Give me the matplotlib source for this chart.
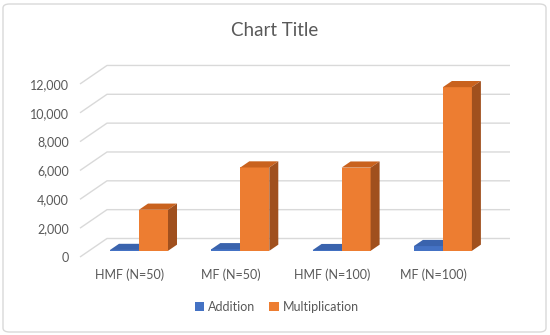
import matplotlib.pyplot as plt
from matplotlib.patches import Polygon, Patch, FancyBboxPatch

plt.rcParams['font.family'] = ['Lato', 'DejaVu Sans']

# data
categories = ['HMF (N=50)', 'MF (N=50)', 'HMF (N=100)', 'MF (N=100)']
addition = [60, 110, 50, 330]
multiplication = [2850, 5780, 5770, 11350]
yticks = [0, 2000, 4000, 6000, 8000, 10000, 12000]

TXT = '#595959'
GRID = '#D9D9D9'
# front / top / side shades for the 3D look
BLUE = ('#4472C4', '#3A63AD', '#2F5597')
ORANGE = ('#ED7D31', '#C9621E', '#A0501E')

W, H = 550, 335
fig = plt.figure(figsize=(W / 100, H / 100), dpi=100)

# axes laid over the front plane of the 3D box (pixels 80..510, 257 -> top 60)
ax = fig.add_axes([80 / W, (H - 257) / H, 430 / W, 197 / H])
px_per_cat = 101.3
px_per_val = 14.42 / 1000
x0 = -50 / px_per_cat           # data x at left edge (pixel 80)
x1 = x0 + 430 / px_per_cat
ax.set_xlim(x0, x1)
ax.set_ylim(0, 197 / px_per_val)

# full depth of the box in data units
DX = 27 / px_per_cat
DY = 18.5 / px_per_val

# walls gridlines: diagonal on left wall, then along back wall
for v in yticks:
    ax.plot([x0, x0 + DX, x1], [v, v + DY, v + DY], color=GRID, lw=1.0,
            zorder=1, clip_on=False, solid_capstyle='butt')

bw = 29 / px_per_cat
d = 1 / 3  # bars sit between 1/3 and 2/3 of the depth


def bar3d(xl, val, cols):
    xr = xl + bw
    yb = DY * d
    yt = yb + val
    ddx, ddy = DX * d, DY * d
    front, top, side = cols
    ax.add_patch(Polygon([(xl, yb), (xr, yb), (xr, yt), (xl, yt)],
                         closed=True, fc=front, ec='none', zorder=3))
    ax.add_patch(Polygon([(xl, yt), (xr, yt), (xr + ddx, yt + ddy), (xl + ddx, yt + ddy)],
                         closed=True, fc=top, ec='none', zorder=3))
    ax.add_patch(Polygon([(xr, yb), (xr + ddx, yb + ddy), (xr + ddx, yt + ddy), (xr, yt)],
                         closed=True, fc=side, ec='none', zorder=3))


for i in range(len(categories)):
    c = i + DX * d
    bar3d(c - bw, addition[i], BLUE)
    bar3d(c, multiplication[i], ORANGE)

for s in ax.spines.values():
    s.set_visible(False)
ax.set_yticks(yticks)
ax.set_yticklabels([f'{v:,}' for v in yticks], fontsize=9, color=TXT)
ax.set_xticks(range(len(categories)))
ax.set_xticklabels(categories, fontsize=9, color=TXT)
ax.tick_params(axis='y', length=0, pad=8)
ax.tick_params(axis='x', length=0, pad=8)
ax.patch.set_visible(False)

fig.text(275 / W, 1 - 30 / H, 'Chart Title', ha='center', va='center',
         fontsize=13.5, color=TXT)

handles = [Patch(fc=BLUE[0], label='Addition'), Patch(fc=ORANGE[0], label='Multiplication')]
fig.legend(handles=handles, loc='center', bbox_to_anchor=(277 / W, 1 - 307 / H), ncol=2,
           frameon=False, fontsize=9, handlelength=0.75, handleheight=0.75,
           handletextpad=0.35, columnspacing=1.1, labelcolor=TXT)

fig.patches.append(FancyBboxPatch((3 / W, 3 / H), 1 - 7 / W, 1 - 7 / H,
                                  boxstyle='round,pad=0,rounding_size=0.012',
                                  transform=fig.transFigure, fc='none', ec=GRID, lw=1.0))

fig.savefig('out.png', dpi=100, facecolor='white')
